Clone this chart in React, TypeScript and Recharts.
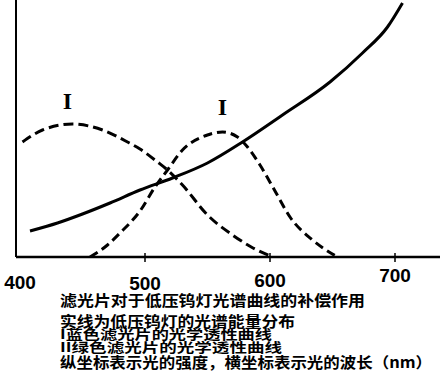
import React from 'react';
import { LineChart, Line, XAxis, YAxis, ReferenceDot } from 'recharts';

// Wavelength (nm) vs relative intensity
const lampCurve = [
  { nm: 408, v: 26 }, { nm: 430, v: 34 }, { nm: 450, v: 43 }, { nm: 472, v: 54 },
  { nm: 496, v: 67 }, { nm: 522, v: 79 }, { nm: 550, v: 94 }, { nm: 578, v: 115 },
  { nm: 610, v: 142 }, { nm: 648, v: 175 }, { nm: 674, v: 204 }, { nm: 694, v: 230 },
  { nm: 706, v: 254 },
];
const blueFilter = [
  { nm: 402, v: 115 }, { nm: 418, v: 127 }, { nm: 442, v: 133 }, { nm: 466, v: 127 },
  { nm: 486, v: 115 }, { nm: 496, v: 108 }, { nm: 510, v: 95 }, { nm: 518, v: 87 },
  { nm: 530, v: 72 }, { nm: 550, v: 42 }, { nm: 570, v: 22 }, { nm: 585, v: 10 },
  { nm: 600, v: 1 },
];
const greenFilter = [
  { nm: 456, v: 0 }, { nm: 470, v: 12 }, { nm: 480, v: 24 }, { nm: 496, v: 46 },
  { nm: 508, v: 70 }, { nm: 518, v: 87 }, { nm: 530, v: 107 }, { nm: 550, v: 122 },
  { nm: 562, v: 125 }, { nm: 574, v: 120 }, { nm: 582, v: 110 }, { nm: 592, v: 92 },
  { nm: 604, v: 66 }, { nm: 616, v: 40 }, { nm: 634, v: 17 }, { nm: 654, v: 0 },
];
const xTicks = [400, 500, 600, 700];
const curveLabels = [
  { nm: 438, v: 156, text: 'I' },
  { nm: 562, v: 150, text: 'I' },
];
const captionLines = [
  '滤光片对于低压钨灯光谱曲线的补偿作用',
  '实线为低压钨灯的光谱能量分布',
  'I蓝色滤光片的光学透性曲线',
  'II绿色滤光片的光学透性曲线',
  '纵坐标表示光的强度，横坐标表示光的波长（nm）',
];

const tickDy: Record<number, number> = { 400: 32, 500: 33, 600: 30, 700: 25 };
const captionStyle = [
  { y: 306, size: 15, len: 305 },
  { y: 327, size: 15, len: 235 },
  { y: 339, size: 13, len: 212 },
  { y: 352, size: 13, len: 222 },
  { y: 368, size: 15, len: 372 },
];

const XTick = (props: any) => {
  const { x, y, payload } = props;
  const v = payload.value;
  return (
    <g>
      {v !== 400 && <line x1={x} x2={x} y1={y - 4} y2={y + 5} stroke="#000" strokeWidth={1.5} />}
      <text
        x={x}
        y={y + (tickDy[v] ?? 30)}
        textAnchor="middle"
        fontFamily="Liberation Sans, Arial, sans-serif"
        fontWeight="bold"
        fontSize={19}
        fill="#000"
      >
        {v}
      </text>
    </g>
  );
};

const LabelShape = (text: string) => (props: any) => (
  <text
    x={props.cx}
    y={props.cy + 8}
    textAnchor="middle"
    fontFamily="Liberation Serif, serif"
    fontWeight="bold"
    fontSize={24}
    fill="#000"
  >
    {text}
  </text>
);

export default function App() {
  return (
    <div style={{ position: 'absolute', left: 0, top: 0, width: 440, height: 381, background: '#fff' }}>
      <LineChart width={440} height={300} margin={{ top: 0, right: 0, bottom: 0, left: 0 }}>
        <XAxis
          dataKey="nm"
          type="number"
          domain={[396.8, 736]}
          ticks={xTicks}
          allowDataOverflow
          height={43}
          axisLine={{ stroke: '#000', strokeWidth: 2.5 }}
          tickLine={false}
          tickSize={0}
          tickMargin={0}
          tick={<XTick />}
          interval={0}
        />
        <YAxis
          type="number"
          domain={[0, 257]}
          width={16}
          tick={false}
          tickLine={false}
          axisLine={{ stroke: '#000', strokeWidth: 2 }}
          allowDataOverflow
        />
        <Line data={lampCurve} dataKey="v" type="monotone" stroke="#000" strokeWidth={3} dot={false} isAnimationActive={false} />
        <Line data={blueFilter} dataKey="v" type="monotone" stroke="#000" strokeWidth={3} strokeDasharray="10 5" dot={false} isAnimationActive={false} />
        <Line data={greenFilter} dataKey="v" type="monotone" stroke="#000" strokeWidth={3} strokeDasharray="9 5" dot={false} isAnimationActive={false} />
        {curveLabels.map((l, i) => (
          <ReferenceDot key={i} x={l.nm} y={l.v} r={0} shape={LabelShape(l.text)} />
        ))}
      </LineChart>
      <svg width={440} height={381} style={{ position: 'absolute', left: 0, top: 0, pointerEvents: 'none' }}>
        {captionLines.map((t, i) => (
          <text
            key={i}
            x={60}
            y={captionStyle[i].y}
            fontFamily="Noto Sans CJK SC, sans-serif"
            fontWeight="bold"
            fontSize={captionStyle[i].size}
            textLength={captionStyle[i].len}
            lengthAdjust="spacingAndGlyphs"
            fill="#000"
          >
            {t}
          </text>
        ))}
      </svg>
    </div>
  );
}
